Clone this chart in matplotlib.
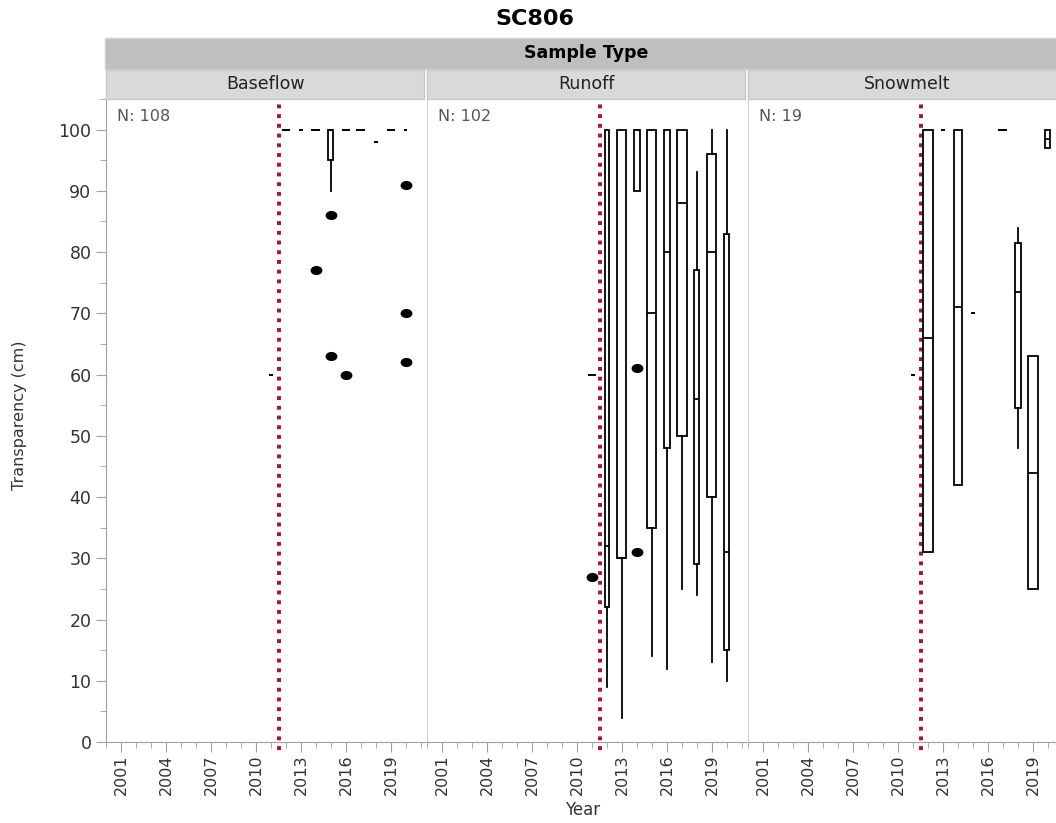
import numpy as np
import matplotlib
matplotlib.use("Agg")
import matplotlib.pyplot as plt
from matplotlib.patches import Rectangle
from matplotlib.path import Path
from matplotlib.ticker import MultipleLocator

# --- data (Transparency, cm) ---
panel_names = ["Baseflow", "Runoff", "Snowmelt"]
panel_n = [108, 102, 19]

base_years = [2011, 2012, 2013, 2014, 2015, 2016, 2017, 2018, 2019, 2020]
base_lo = [60, 100, 100, 100, 90, 100, 100, 98, 100, 100]
base_q1 = [60, 100, 100, 100, 95, 100, 100, 98, 100, 100]
base_med = [60, 100, 100, 100, 100, 100, 100, 98, 100, 100]
base_q3 = [60, 100, 100, 100, 100, 100, 100, 98, 100, 100]
base_hi = [60, 100, 100, 100, 100, 100, 100, 98, 100, 100]
base_out_years = [2014, 2015, 2015, 2016, 2020, 2020, 2020]
base_out_vals = [77, 86, 63, 60, 91, 70, 62]

run_years = [2011, 2012, 2013, 2014, 2015, 2016, 2017, 2018, 2019, 2020]
run_lo = [60, 9, 4, 90, 14, 12, 25, 24, 13, 10]
run_q1 = [60, 22, 30, 90, 35, 48, 50, 29, 40, 15]
run_med = [60, 32, 30, 100, 70, 80, 88, 56, 80, 31]
run_q3 = [60, 100, 100, 100, 100, 100, 100, 77, 96, 83]
run_hi = [60, 100, 100, 100, 100, 100, 100, 93, 100, 100]
run_out_years = [2011, 2014, 2014]
run_out_vals = [27, 61, 31]

snow_years = [2011, 2012, 2013, 2014, 2015, 2017, 2018, 2019, 2020]
snow_lo = [60, 31, 100, 42, 70, 100, 48, 25, 97]
snow_q1 = [60, 31, 100, 42, 70, 100, 54.5, 25, 97]
snow_med = [60, 66, 100, 71, 70, 100, 73.5, 44, 98.5]
snow_q3 = [60, 100, 100, 100, 70, 100, 81.5, 63, 100]
snow_hi = [60, 100, 100, 100, 70, 100, 84, 63, 100]
snow_out_years = []
snow_out_vals = []

ref_year = 2011.53
tick_years = [2001, 2004, 2007, 2010, 2013, 2016, 2019]

# box widths (years) as drawn in the reference
base_w = [0.27, 0.53, 0.27, 0.6, 0.33, 0.53, 0.6, 0.27, 0.53, 0.2]
run_w = [0.5, 0.31, 0.6, 0.35, 0.6, 0.35, 0.62, 0.33, 0.6, 0.33]
snow_w = [0.27, 0.62, 0.31, 0.58, 0.29, 0.6, 0.38, 0.62, 0.33]

panels = [
    (base_years, base_lo, base_q1, base_med, base_q3, base_hi, base_out_years, base_out_vals, base_w),
    (run_years, run_lo, run_q1, run_med, run_q3, run_hi, run_out_years, run_out_vals, run_w),
    (snow_years, snow_lo, snow_q1, snow_med, snow_q3, snow_hi, snow_out_years, snow_out_vals, snow_w),
]

plt.rcParams['font.family'] = ['DejaVu Sans']

W, H = 1056, 823
fig = plt.figure(figsize=(W / 100, H / 100), dpi=100)


def fx(px):
    return px / W


def fy(py):
    return 1 - py / H


# elliptic outlier marker like JMP's
circ = Path.unit_circle()
ell = Path(circ.vertices * np.array([1.35, 1.0]), circ.codes)

grey_txt = "#333333"
axis_grey = "#A0A0A0"

lefts = [106, 427, 748]
pw = 319
top, bot = 99, 742

# header bars
fig.patches.append(Rectangle((fx(105), fy(69)), fx(1080) - fx(105), fy(38) - fy(69),
                             transform=fig.transFigure, facecolor="#BFBFBF",
                             edgecolor="#D0D0D0", lw=1, zorder=0))
fig.text(fx(586), fy(53), "Sample Type", ha="center", va="center",
         fontsize=12.5, fontweight="bold", color="black")

for i, (x0, name) in enumerate(zip(lefts, panel_names)):
    fig.patches.append(Rectangle((fx(x0), fy(99)), fx(pw - 1), fy(70) - fy(99),
                                 transform=fig.transFigure, facecolor="#D9D9D9",
                                 edgecolor="#C8C8C8", lw=1, zorder=0))
    fig.text(fx(x0 + pw / 2), fy(84), name, ha="center", va="center",
             fontsize=12.5, color="#222222")

for i, (x0, p) in enumerate(zip(lefts, panels)):
    yrs, lo, q1, med, q3, hi, oy, ov, wds = p
    ax = fig.add_axes([fx(x0), fy(bot), fx(pw), fy(top) - fy(bot)])
    stats = []
    for j, yr in enumerate(yrs):
        fl = [v for y2, v in zip(oy, ov) if y2 == yr]
        stats.append(dict(med=med[j], q1=q1[j], q3=q3[j], whislo=lo[j], whishi=hi[j], fliers=fl))
    ax.bxp(stats, positions=yrs, widths=wds, showcaps=False, patch_artist=True,
           manage_ticks=False,
           boxprops=dict(facecolor="white", edgecolor="black", linewidth=1.3),
           medianprops=dict(color="black", linewidth=1.3),
           whiskerprops=dict(color="black", linewidth=1.3),
           flierprops=dict(marker=ell, markerfacecolor="black", markeredgecolor="black",
                           markersize=7.5, linestyle="none"))
    ax.axvline(ref_year, color="#B0102A", lw=2.8, linestyle=(0, (1, 1.5)), zorder=1,
               ymin=-0.012, clip_on=False)

    ax.set_xlim(2000, 2021.27)
    ax.set_ylim(0, 105)
    ax.set_xticks(tick_years)
    ax.set_xticklabels([str(t) for t in tick_years], rotation=90, fontsize=11.5, color=grey_txt)
    ax.xaxis.set_minor_locator(MultipleLocator(1))
    ax.tick_params(axis="x", which="major", length=7, color=axis_grey, pad=2)
    ax.tick_params(axis="x", which="minor", length=4, color=axis_grey)

    for s in ["top", "right"]:
        ax.spines[s].set_visible(False)
    ax.spines["bottom"].set_color(axis_grey)
    if i == 0:
        ax.set_yticks(range(0, 101, 10))
        ax.yaxis.set_minor_locator(MultipleLocator(5))
        ax.tick_params(axis="y", which="major", length=7, color=axis_grey,
                       labelsize=12.5, labelcolor=grey_txt)
        ax.tick_params(axis="y", which="minor", length=4, color=axis_grey)
        ax.spines["left"].set_color(axis_grey)
    else:
        ax.set_yticks([])
        ax.spines["left"].set_color("#D0D0D0")

    ax.text(0.035, 0.985, f"N: {panel_n[i]}", transform=ax.transAxes, ha="left", va="top",
            fontsize=11.5, color="#555555")

fig.text(fx(20), fy(415), "Transparency (cm)", rotation=90, ha="center", va="center",
         fontsize=11.5, color=grey_txt)
fig.text(fx(583), fy(810), "Year", ha="center", va="center", fontsize=12, color=grey_txt)
fig.text(fx(535), fy(19), "SC806", ha="center", va="center", fontsize=16, fontweight="bold")

fig.savefig("out.png", dpi=100)
